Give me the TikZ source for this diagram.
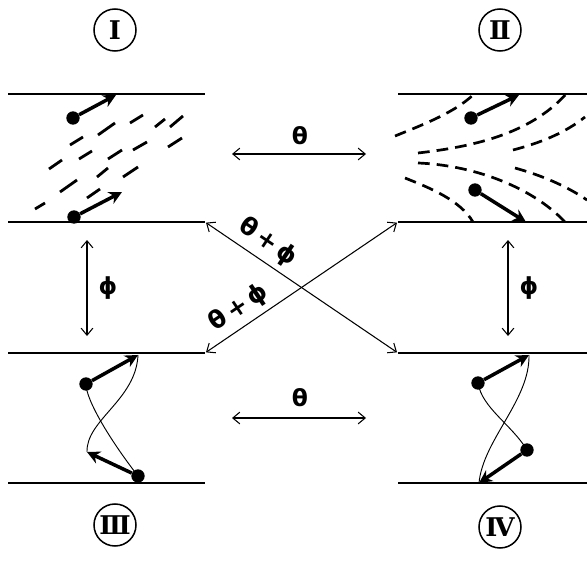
\documentclass[tikz,border=0pt]{standalone}
\usepackage{fontspec}
\newfontfamily\greekfont{DejaVu Sans}
\newfontfamily\numeralfont{DejaVu Serif}
\usetikzlibrary{arrows.meta}

\begin{document}
\begin{tikzpicture}[x=0.03cm, y=-0.03cm,
    wall/.style={line width=2.2pt},
    spin/.style={circle, fill=black, inner sep=0pt, minimum size=0.4cm},
    moment/.style={line width=3pt, -{Stealth[length=11pt,width=11pt]}},
    track/.style={line width=0.8pt},
    streak/.style={line width=2.4pt},
    wave/.style={line width=2.3pt, dash pattern=on 10pt off 6pt},
    gap/.style={line width=0.9pt, {Straight Barb[length=6pt,width=10pt]}-{Straight Barb[length=6pt,width=10pt]}},
    roman/.style={circle, draw, line width=1.3pt, minimum size=1.26cm, inner sep=0pt,
        font=\numeralfont\bfseries\fontsize{22}{24}\selectfont},
    glabel/.style={font=\greekfont\bfseries\fontsize{20}{22}\selectfont},
    blabel/.style={font=\greekfont\bfseries\fontsize{21}{23}\selectfont, inner sep=1pt}
]
\useasboundingbox (0,0) rectangle (587,564);

% Panel labels
\node[roman] (nI) at (115,30) {Ⅰ};
\node[roman] (nII) at (500,30) {Ⅱ};
\node[roman] (nIII) at (115,525) {Ⅲ};
\node[roman] (nIV) at (500,527) {Ⅳ};

% Walls
\coordinate (Ita) at (8,94);    \coordinate (Itb) at (205,94);
\coordinate (Iba) at (8,222);   \coordinate (Ibb) at (205,222);
\coordinate (IIta) at (398,94); \coordinate (IItb) at (587,94);
\coordinate (IIba) at (398,222);\coordinate (IIbb) at (587,222);
\coordinate (IIIta) at (8,353); \coordinate (IIItb) at (205,353);
\coordinate (IIIba) at (8,483); \coordinate (IIIbb) at (205,483);
\coordinate (IVta) at (398,353);\coordinate (IVtb) at (587,353);
\coordinate (IVba) at (398,483);\coordinate (IVbb) at (587,483);
\draw[wall] (Ita) -- (Itb);   \draw[wall] (Iba) -- (Ibb);
\draw[wall] (IIta) -- (IItb); \draw[wall] (IIba) -- (IIbb);
\draw[wall] (IIIta) -- (IIItb); \draw[wall] (IIIba) -- (IIIbb);
\draw[wall] (IVta) -- (IVtb); \draw[wall] (IVba) -- (IVbb);

% Panel I
\foreach \xa/\ya/\xb/\yb in {35/209/45/203, 49/169/62/160, 60/192/77/180, 70/145/83/137,
    79/159/92/151, 87/198/100/189, 97/177/108/168, 98/135/115/123, 108/159/122/150,
    123/177/138/167, 130/123/143/115, 133/150/147/142, 155/127/165/119,
    168/147/182/138, 170/127/183/116} {
    \draw[streak] (\xa,\ya) -- (\xb,\yb);
}
\node[spin] (sIa) at (73,118) {};
\coordinate (mIa) at (116,95);
\draw[moment] (sIa) -- (mIa);
\node[spin] (sIb) at (74,217) {};
\coordinate (mIb) at (122,192);
\draw[moment] (sIb) -- (mIb);

% Panel II
\draw[wave] (395,136) .. controls (425,124) and (455,112) .. (473,95);
\draw[wave] (418,153) .. controls (470,147) and (530,135) .. (567,93);
\draw[wave] (513,150) .. controls (540,143) and (565,133) .. (585,117);
\draw[wave] (418,163) .. controls (470,165) and (530,185) .. (565,222);
\draw[wave] (515,168) .. controls (540,175) and (565,185) .. (587,200);
\draw[wave] (405,178) .. controls (430,188) and (460,200) .. (473,222);
\node[spin] (sIIa) at (471,118) {};
\coordinate (mIIa) at (519,95);
\draw[moment] (sIIa) -- (mIIa);
\node[spin] (sIIb) at (475,190) {};
\coordinate (mIIb) at (526,222);
\draw[moment] (sIIb) -- (mIIb);

% Panel III
\node[spin] (sIIIa) at (86,384) {};
\coordinate (mIIIa) at (138,355);
\node[spin] (sIIIb) at (138,476) {};
\coordinate (mIIIb) at (87,452);
\draw[track] (sIIIa.center) .. controls (86,400) and (110,440) .. (sIIIb.center);
\draw[track] (mIIIa) .. controls (136,400) and (86,420) .. (mIIIb);
\draw[moment] (sIIIa) -- (mIIIa);
\draw[moment] (sIIIb) -- (mIIIb);

% Panel IV
\node[spin] (sIVa) at (478,383) {};
\coordinate (mIVa) at (529,355);
\node[spin] (sIVb) at (527,450) {};
\coordinate (mIVb) at (479,483);
\draw[track] (sIVa.center) .. controls (482,408) and (512,425) .. (sIVb.center);
\draw[track] (mIVa) .. controls (530,400) and (483,440) .. (mIVb);
\draw[moment] (sIVa) -- (mIVa);
\draw[moment] (sIVb) -- (mIVb);

% Angles between panels
\coordinate (tAl) at (232,154); \coordinate (tAr) at (366,154);
\draw[gap] (tAl) -- (tAr);
\node[glabel] (thA) at (300,136) {θ};
\coordinate (tBl) at (232,418); \coordinate (tBr) at (366,418);
\draw[gap] (tBl) -- (tBr);
\node[glabel] (thB) at (300,398) {θ};
\coordinate (pAt) at (87,240); \coordinate (pAb) at (87,336);
\draw[gap] (pAt) -- (pAb);
\node[glabel] (phA) at (108,288) {ϕ};
\coordinate (pBt) at (508,240); \coordinate (pBb) at (508,336);
\draw[gap] (pBt) -- (pBb);
\node[glabel] (phB) at (529,288) {ϕ};

% Cross
\draw[gap, shorten <=1pt, shorten >=1pt] (Ibb) -- (IVta);
\draw[gap, shorten <=1pt, shorten >=1pt] (IIItb) -- (IIba);
\node[blabel, rotate=-34] (sumA) at (268,242) {θ\,+\,ϕ};
\node[blabel, rotate=34] (sumB) at (239,308) {θ\,+\,ϕ};

\end{tikzpicture}
\end{document}
